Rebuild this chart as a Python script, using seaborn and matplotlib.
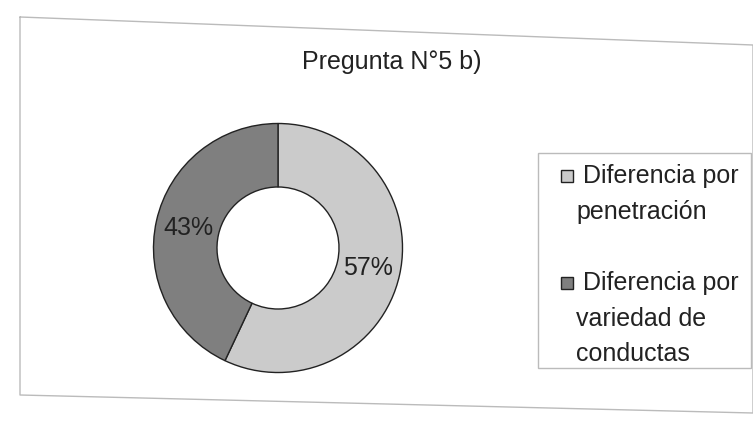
import matplotlib
matplotlib.use("Agg")
import matplotlib.pyplot as plt
import seaborn as sns
from matplotlib.lines import Line2D
from matplotlib.patches import Rectangle

categories = ["Diferencia por\npenetración", "Diferencia por\nvariedad de\nconductas"]
values = [57, 43]
colors = ["#cbcbcb", "#7f7f7f"]
title = "Pregunta N°5 b)"

sns.set_theme(style="white")
plt.rcParams['font.family'] = ['Liberation Sans', 'DejaVu Sans']

fig = plt.figure(figsize=(7.53, 4.24), dpi=100)
fig.patch.set_facecolor("white")

W, H = 753, 424
TXT = "#222222"
cx, cy, r = 278, 248, 127
ax = fig.add_axes([(cx - r) / W, (H - cy - r) / H, 2 * r / W, 2 * r / H])

wedges, texts, autotexts = ax.pie(
    values, colors=colors, startangle=90, counterclock=False,
    radius=1.0, autopct=lambda p: f"{p:.0f}%", pctdistance=0.74,
    wedgeprops=dict(width=0.51, edgecolor="#222222", linewidth=1.0),
    textprops=dict(fontsize=18, color=TXT))
ax.set_xlim(-1.02, 1.02)
ax.set_ylim(-1.02, 1.02)
ax.set_aspect("equal")
ax.axis("off")

fig.text(392 / W, 1 - 62 / H, title, ha="center", va="center", fontsize=18, color=TXT)

# outer chart frame (slightly skewed like the scan)
fx = [20, 753, 753, 20, 20]
fy = [17, 45, 413, 395, 17]
fig.add_artist(Line2D([x / W for x in fx], [1 - y / H for y in fy],
                      transform=fig.transFigure, color="#bbbbbb", linewidth=1.0))

# legend box
lx0, ly0, lx1, ly1 = 538, 153, 751, 368
fig.add_artist(Rectangle((lx0 / W, 1 - ly1 / H), (lx1 - lx0) / W, (ly1 - ly0) / H,
                         transform=fig.transFigure, facecolor="white",
                         edgecolor="#bbbbbb", linewidth=1.0))
entry_y = [176, 283]
line_step = 35.5
hs = 12
for lab, col, y0 in zip(categories, colors, entry_y):
    fig.add_artist(Rectangle(((567 - hs / 2) / W, 1 - (y0 + hs / 2) / H), hs / W, hs / H,
                             transform=fig.transFigure, facecolor=col,
                             edgecolor="#222222", linewidth=1.0))
    for j, line in enumerate(lab.split("\n")):
        x = 583 if j == 0 else 576
        fig.text(x / W, 1 - (y0 + j * line_step) / H, line, ha="left", va="center",
                 fontsize=18, color=TXT)

fig.savefig("out.png", dpi=100, facecolor="white")
